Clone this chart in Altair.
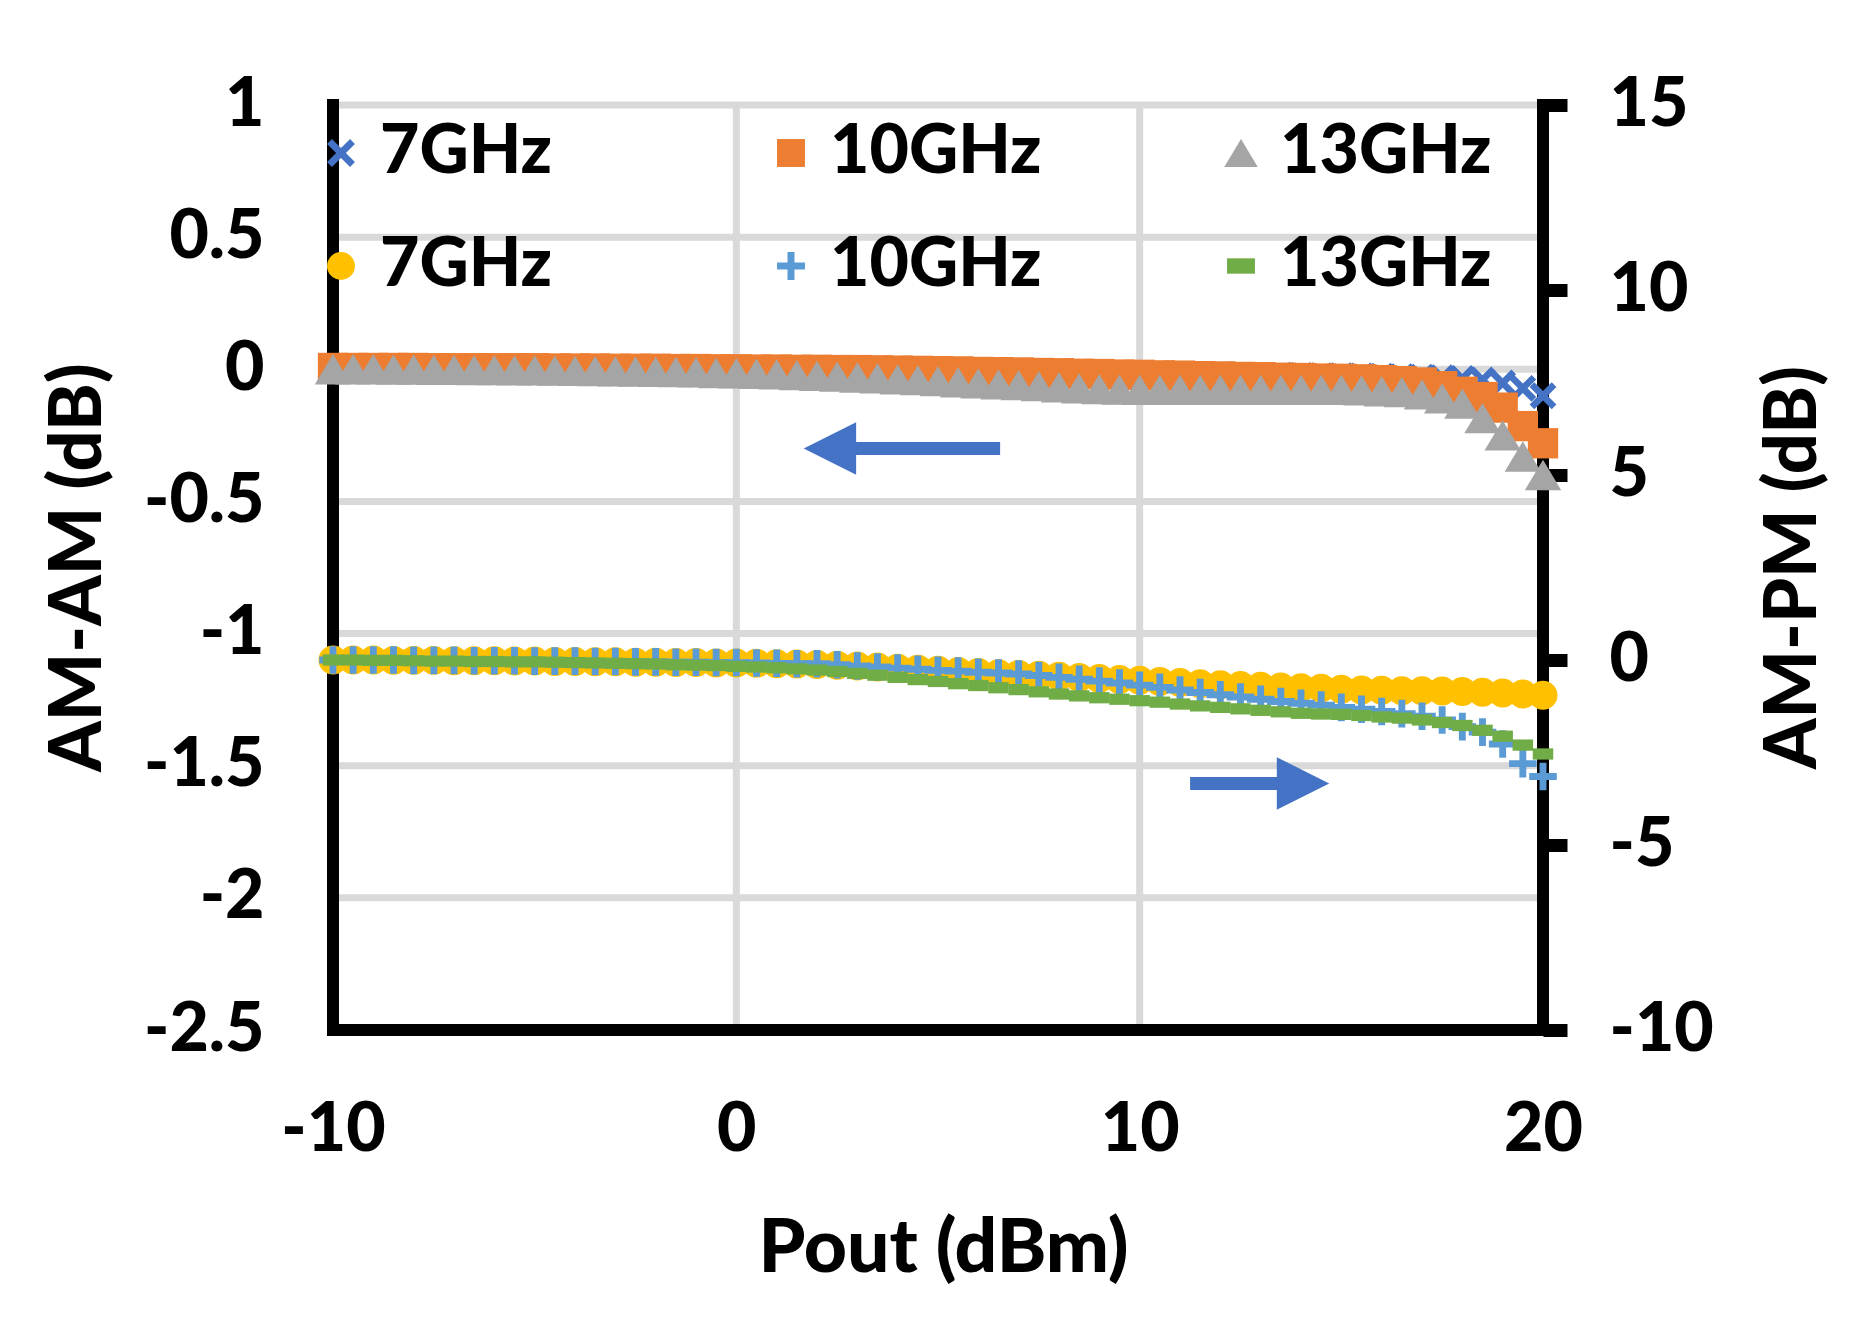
import altair as alt
import pandas as pd

FONT = "Lato"
WEIGHT = 900

# ---------------- data ----------------
x_dbm = [-10.0, -9.5, -9.0, -8.5, -8.0, -7.5, -7.0, -6.5, -6.0, -5.5,
         -5.0, -4.5, -4.0, -3.5, -3.0, -2.5, -2.0, -1.5, -1.0, -0.5,
         0.0, 0.5, 1.0, 1.5, 2.0, 2.5, 3.0, 3.5, 4.0, 4.5,
         5.0, 5.5, 6.0, 6.5, 7.0, 7.5, 8.0, 8.5, 9.0, 9.5,
         10.0, 10.5, 11.0, 11.5, 12.0, 12.5, 13.0, 13.5, 14.0, 14.5,
         15.0, 15.5, 16.0, 16.5, 17.0, 17.5, 18.0, 18.5, 19.0, 19.5, 20.0]

# AM-AM (dB), left axis
amam_7ghz = [0.004, 0.004, 0.004, 0.004, 0.004, 0.004, 0.003, 0.003, 0.003, 0.003,
             0.003, 0.002, 0.002, 0.002, 0.002, 0.001, 0.001, 0.001, 0.0, 0.0,
             0.0, -0.001, -0.001, -0.002, -0.002, -0.003, -0.003, -0.004, -0.005, -0.006,
             -0.007, -0.008, -0.009, -0.010, -0.011, -0.012, -0.013, -0.014, -0.015, -0.016,
             -0.017, -0.018, -0.019, -0.020, -0.020, -0.021, -0.022, -0.022, -0.023, -0.024,
             -0.024, -0.025, -0.026, -0.028, -0.030, -0.032, -0.035, -0.040, -0.052, -0.072, -0.100]
amam_10ghz = [0.005, 0.005, 0.005, 0.005, 0.005, 0.004, 0.004, 0.004, 0.004, 0.004,
              0.004, 0.003, 0.003, 0.003, 0.002, 0.002, 0.002, 0.001, 0.001, 0.0,
              0.0, -0.001, -0.001, -0.002, -0.002, -0.003, -0.003, -0.004, -0.005, -0.006,
              -0.007, -0.008, -0.010, -0.011, -0.012, -0.014, -0.015, -0.017, -0.018, -0.020,
              -0.021, -0.023, -0.024, -0.026, -0.027, -0.029, -0.030, -0.032, -0.033, -0.035,
              -0.036, -0.038, -0.041, -0.045, -0.050, -0.064, -0.085, -0.105, -0.145, -0.215, -0.280]
amam_13ghz = [0.0, 0.0, 0.0, -0.001, -0.001, -0.002, -0.002, -0.003, -0.003, -0.004,
              -0.004, -0.005, -0.006, -0.007, -0.008, -0.009, -0.010, -0.011, -0.012, -0.014,
              -0.015, -0.017, -0.019, -0.022, -0.025, -0.028, -0.031, -0.034, -0.038, -0.041,
              -0.045, -0.049, -0.053, -0.057, -0.060, -0.064, -0.068, -0.072, -0.075, -0.077,
              -0.078, -0.078, -0.078, -0.078, -0.078, -0.078, -0.078, -0.078, -0.078, -0.078,
              -0.078, -0.080, -0.083, -0.086, -0.095, -0.110, -0.130, -0.185, -0.250, -0.330, -0.400]

# AM-PM (dB), right axis
ampm_7ghz = [0.0, 0.0, 0.0, -0.01, -0.01, -0.01, -0.02, -0.02, -0.02, -0.03,
             -0.03, -0.04, -0.04, -0.05, -0.05, -0.06, -0.06, -0.07, -0.07, -0.08,
             -0.08, -0.09, -0.10, -0.11, -0.12, -0.14, -0.16, -0.19, -0.22, -0.25,
             -0.28, -0.31, -0.34, -0.37, -0.39, -0.41, -0.44, -0.47, -0.50, -0.53,
             -0.55, -0.58, -0.61, -0.64, -0.67, -0.69, -0.71, -0.73, -0.75, -0.76,
             -0.79, -0.81, -0.82, -0.83, -0.83, -0.84, -0.85, -0.87, -0.89, -0.92, -0.95]
ampm_10ghz = [0.0, 0.0, 0.0, 0.0, -0.01, -0.01, -0.01, -0.02, -0.02, -0.02,
              -0.03, -0.03, -0.03, -0.04, -0.04, -0.05, -0.05, -0.06, -0.06, -0.07,
              -0.07, -0.08, -0.09, -0.10, -0.10, -0.13, -0.16, -0.19, -0.22, -0.25,
              -0.28, -0.30, -0.33, -0.35, -0.38, -0.42, -0.47, -0.52, -0.57, -0.62,
              -0.68, -0.74, -0.81, -0.88, -0.94, -1.00, -1.06, -1.12, -1.17, -1.22,
              -1.28, -1.33, -1.39, -1.45, -1.52, -1.62, -1.80, -1.95, -2.27, -2.80, -3.15]
ampm_13ghz = [0.0, 0.0, -0.01, -0.01, -0.02, -0.03, -0.03, -0.04, -0.04, -0.05,
              -0.05, -0.06, -0.07, -0.08, -0.09, -0.10, -0.11, -0.13, -0.14, -0.15,
              -0.17, -0.19, -0.21, -0.24, -0.27, -0.31, -0.36, -0.41, -0.47, -0.53,
              -0.58, -0.64, -0.69, -0.75, -0.80, -0.86, -0.92, -0.97, -1.02, -1.06,
              -1.10, -1.14, -1.19, -1.24, -1.28, -1.32, -1.36, -1.40, -1.44, -1.46,
              -1.47, -1.50, -1.54, -1.57, -1.62, -1.69, -1.77, -1.90, -2.06, -2.30, -2.54]

series_names = ["7GHz AM-AM", "10GHz AM-AM", "13GHz AM-AM",
                "7GHz AM-PM", "10GHz AM-PM", "13GHz AM-PM"]
series_colors = ["#4472C4", "#ED7D31", "#A5A5A5", "#FFC000", "#5B9BD5", "#70AD47"]

x_ticks = [-10, 0, 10, 20]
left_ticks = [-2.5, -2, -1.5, -1, -0.5, 0, 0.5, 1]
right_ticks = [-10, -5, 0, 5, 10, 15]
left_grid = [-2, -1.5, -1, -0.5, 0, 0.5, 1]
x_grid = [0, 10]
frame_x = [-10, 20]
frame_y = [-2.5]

# direction arrows (annotations, in Pout / AM-AM units)
arrow_tail = [6.54, 11.25]
arrow_base = [2.9, 13.5]
arrow_head = [2.32, 14.05]
arrow_y = [-0.30, -1.567]

# ---------------- tables ----------------
amam_values = [amam_7ghz, amam_10ghz, amam_13ghz]
ampm_values = [ampm_7ghz, ampm_10ghz, ampm_13ghz]
series_frames = []
for name, vals in zip(series_names, amam_values + ampm_values):
    series_frames.append(pd.DataFrame({"x": x_dbm, "v": vals, "series": [name] * len(x_dbm)}))
arrow_df = pd.DataFrame({"tail": arrow_tail, "base": arrow_base, "head": arrow_head, "y": arrow_y})

# ---------------- styles ----------------
X_SHAPE = "M-1,-0.65L-0.65,-1L0,-0.35L0.65,-1L1,-0.65L0.35,0L1,0.65L0.65,1L0,0.35L-0.65,1L-1,0.65L-0.35,0Z"
PLUS_SHAPE = "M-1,-0.25L-0.25,-0.25L-0.25,-1L0.25,-1L0.25,-0.25L1,-0.25L1,0.25L0.25,0.25L0.25,1L-0.25,1L-0.25,0.25L-1,0.25Z"
TRI_SHAPE = "M0,-1L1.2,1L-1.2,1Z"
DASH_SHAPE = "M-1,-0.55L1,-0.55L1,0.55L-1,0.55Z"
series_shapes = [X_SHAPE, "square", TRI_SHAPE, "circle", PLUS_SHAPE, DASH_SHAPE]
series_sizes = [720, 920, 920, 840, 760, 420]

GRID = "#D9D9D9"
BLUE = "#4472C4"

x_scale = alt.Scale(domain=[-10, 20], nice=False, zero=False)
yl_scale = alt.Scale(domain=[-2.5, 1], nice=False, zero=False)
yr_scale = alt.Scale(domain=[-10, 15], nice=False, zero=False)

common_axis = dict(labelFont=FONT, labelFontSize=68, labelFontWeight=WEIGHT, labelColor="black",
                   titleFont=FONT, titleFontWeight=WEIGHT, titleColor="black",
                   labelExpr="'' + datum.value", domain=False, grid=False,
                   labelFlush=False, labelOverlap=False)

x_axis = alt.Axis(values=x_ticks, title="Pout (dBm)", ticks=False, labelPadding=66,
                  titleFontSize=75, titleX=610, titleY=218, titleAlign="center",
                  titleBaseline="middle", **common_axis)
yl_axis = alt.Axis(orient="left", values=left_ticks, title="AM-AM (dB)", ticks=False,
                   labelPadding=69, titleFontSize=72, titleAngle=270, titleX=-255, titleY=462,
                   titleAlign="center", titleBaseline="middle", **common_axis)
yr_axis = alt.Axis(orient="right", values=right_ticks, title="AM-PM (dB)", ticks=True,
                   tickSize=24, tickWidth=13, tickColor="black", labelPadding=42,
                   titleFontSize=72, titleAngle=270, titleX=250, titleY=462,
                   titleAlign="center", titleBaseline="middle", **common_axis)

legend = alt.Legend(orient="none", legendX=-26, legendY=14, columns=3, direction="horizontal",
                    title=None, labelFont=FONT, labelFontSize=68, labelFontWeight=WEIGHT,
                    labelColor="black", labelLimit=600,
                    labelExpr="split(datum.label, ' ')[0]", labelOffset=5,
                    columnPadding=165, rowPadding=45, symbolStrokeWidth=0, symbolSize=780,
                    gridAlign="all", padding=0)

color_enc = alt.Color("series:N", scale=alt.Scale(domain=series_names, range=series_colors), legend=legend)
shape_enc = alt.Shape("series:N", scale=alt.Scale(domain=series_names, range=series_shapes), legend=legend)

X = lambda f: alt.X(f, scale=x_scale, axis=x_axis)
YL = lambda f: alt.Y(f, scale=yl_scale, axis=yl_axis)
YR = lambda f: alt.Y(f, scale=yr_scale, axis=yr_axis)

grid_h = alt.Chart(pd.DataFrame({"g": left_grid})).mark_rule(color=GRID, strokeWidth=7).encode(y=YL("g:Q"))
grid_v = alt.Chart(pd.DataFrame({"g": x_grid})).mark_rule(color=GRID, strokeWidth=7).encode(x=X("g:Q"))
frame_v = alt.Chart(pd.DataFrame({"f": frame_x})).mark_rule(color="black", strokeWidth=12, strokeCap="square").encode(x=X("f:Q"))
frame_h = alt.Chart(pd.DataFrame({"f": frame_y})).mark_rule(color="black", strokeWidth=12, strokeCap="square").encode(y=YL("f:Q"))


def series_layer(i, yenc):
    return alt.Chart(series_frames[i]).mark_point(
        filled=True, opacity=1, strokeWidth=0, size=series_sizes[i]
    ).encode(x=X("x:Q"), y=yenc("v:Q"), color=color_enc, shape=shape_enc)


amam_layers = [series_layer(i, YL) for i in range(3)]
ampm_layers = [series_layer(i, YR) for i in range(3, 6)]

shaft = alt.Chart(arrow_df).mark_rule(color=BLUE, strokeWidth=13).encode(
    x=X("tail:Q"), x2="base:Q", y=YL("y:Q"))
head_left = alt.Chart(arrow_df.iloc[[0]]).mark_point(
    shape="M1,-1L-1,0L1,1Z", filled=True, opacity=1, size=2750, color=BLUE, strokeWidth=0).encode(
    x=X("head:Q"), y=YL("y:Q"))
head_right = alt.Chart(arrow_df.iloc[[1]]).mark_point(
    shape="M-1,-1L1,0L-1,1Z", filled=True, opacity=1, size=2750, color=BLUE, strokeWidth=0).encode(
    x=X("head:Q"), y=YL("y:Q"))

left_layer = alt.layer(grid_h, grid_v, frame_v, frame_h, *amam_layers, shaft, head_left, head_right)
right_layer = alt.layer(*ampm_layers)

chart = alt.layer(left_layer, right_layer).resolve_scale(y="independent").properties(
    width=1210, height=925,
    autosize=alt.AutoSizeParams(type="none"),
    padding={"left": 325, "top": 97, "right": 310, "bottom": 280},
    background="white",
).configure_view(stroke=None).configure(font=FONT)

chart.save("out.html", embed_options={"renderer": "svg", "actions": False})
